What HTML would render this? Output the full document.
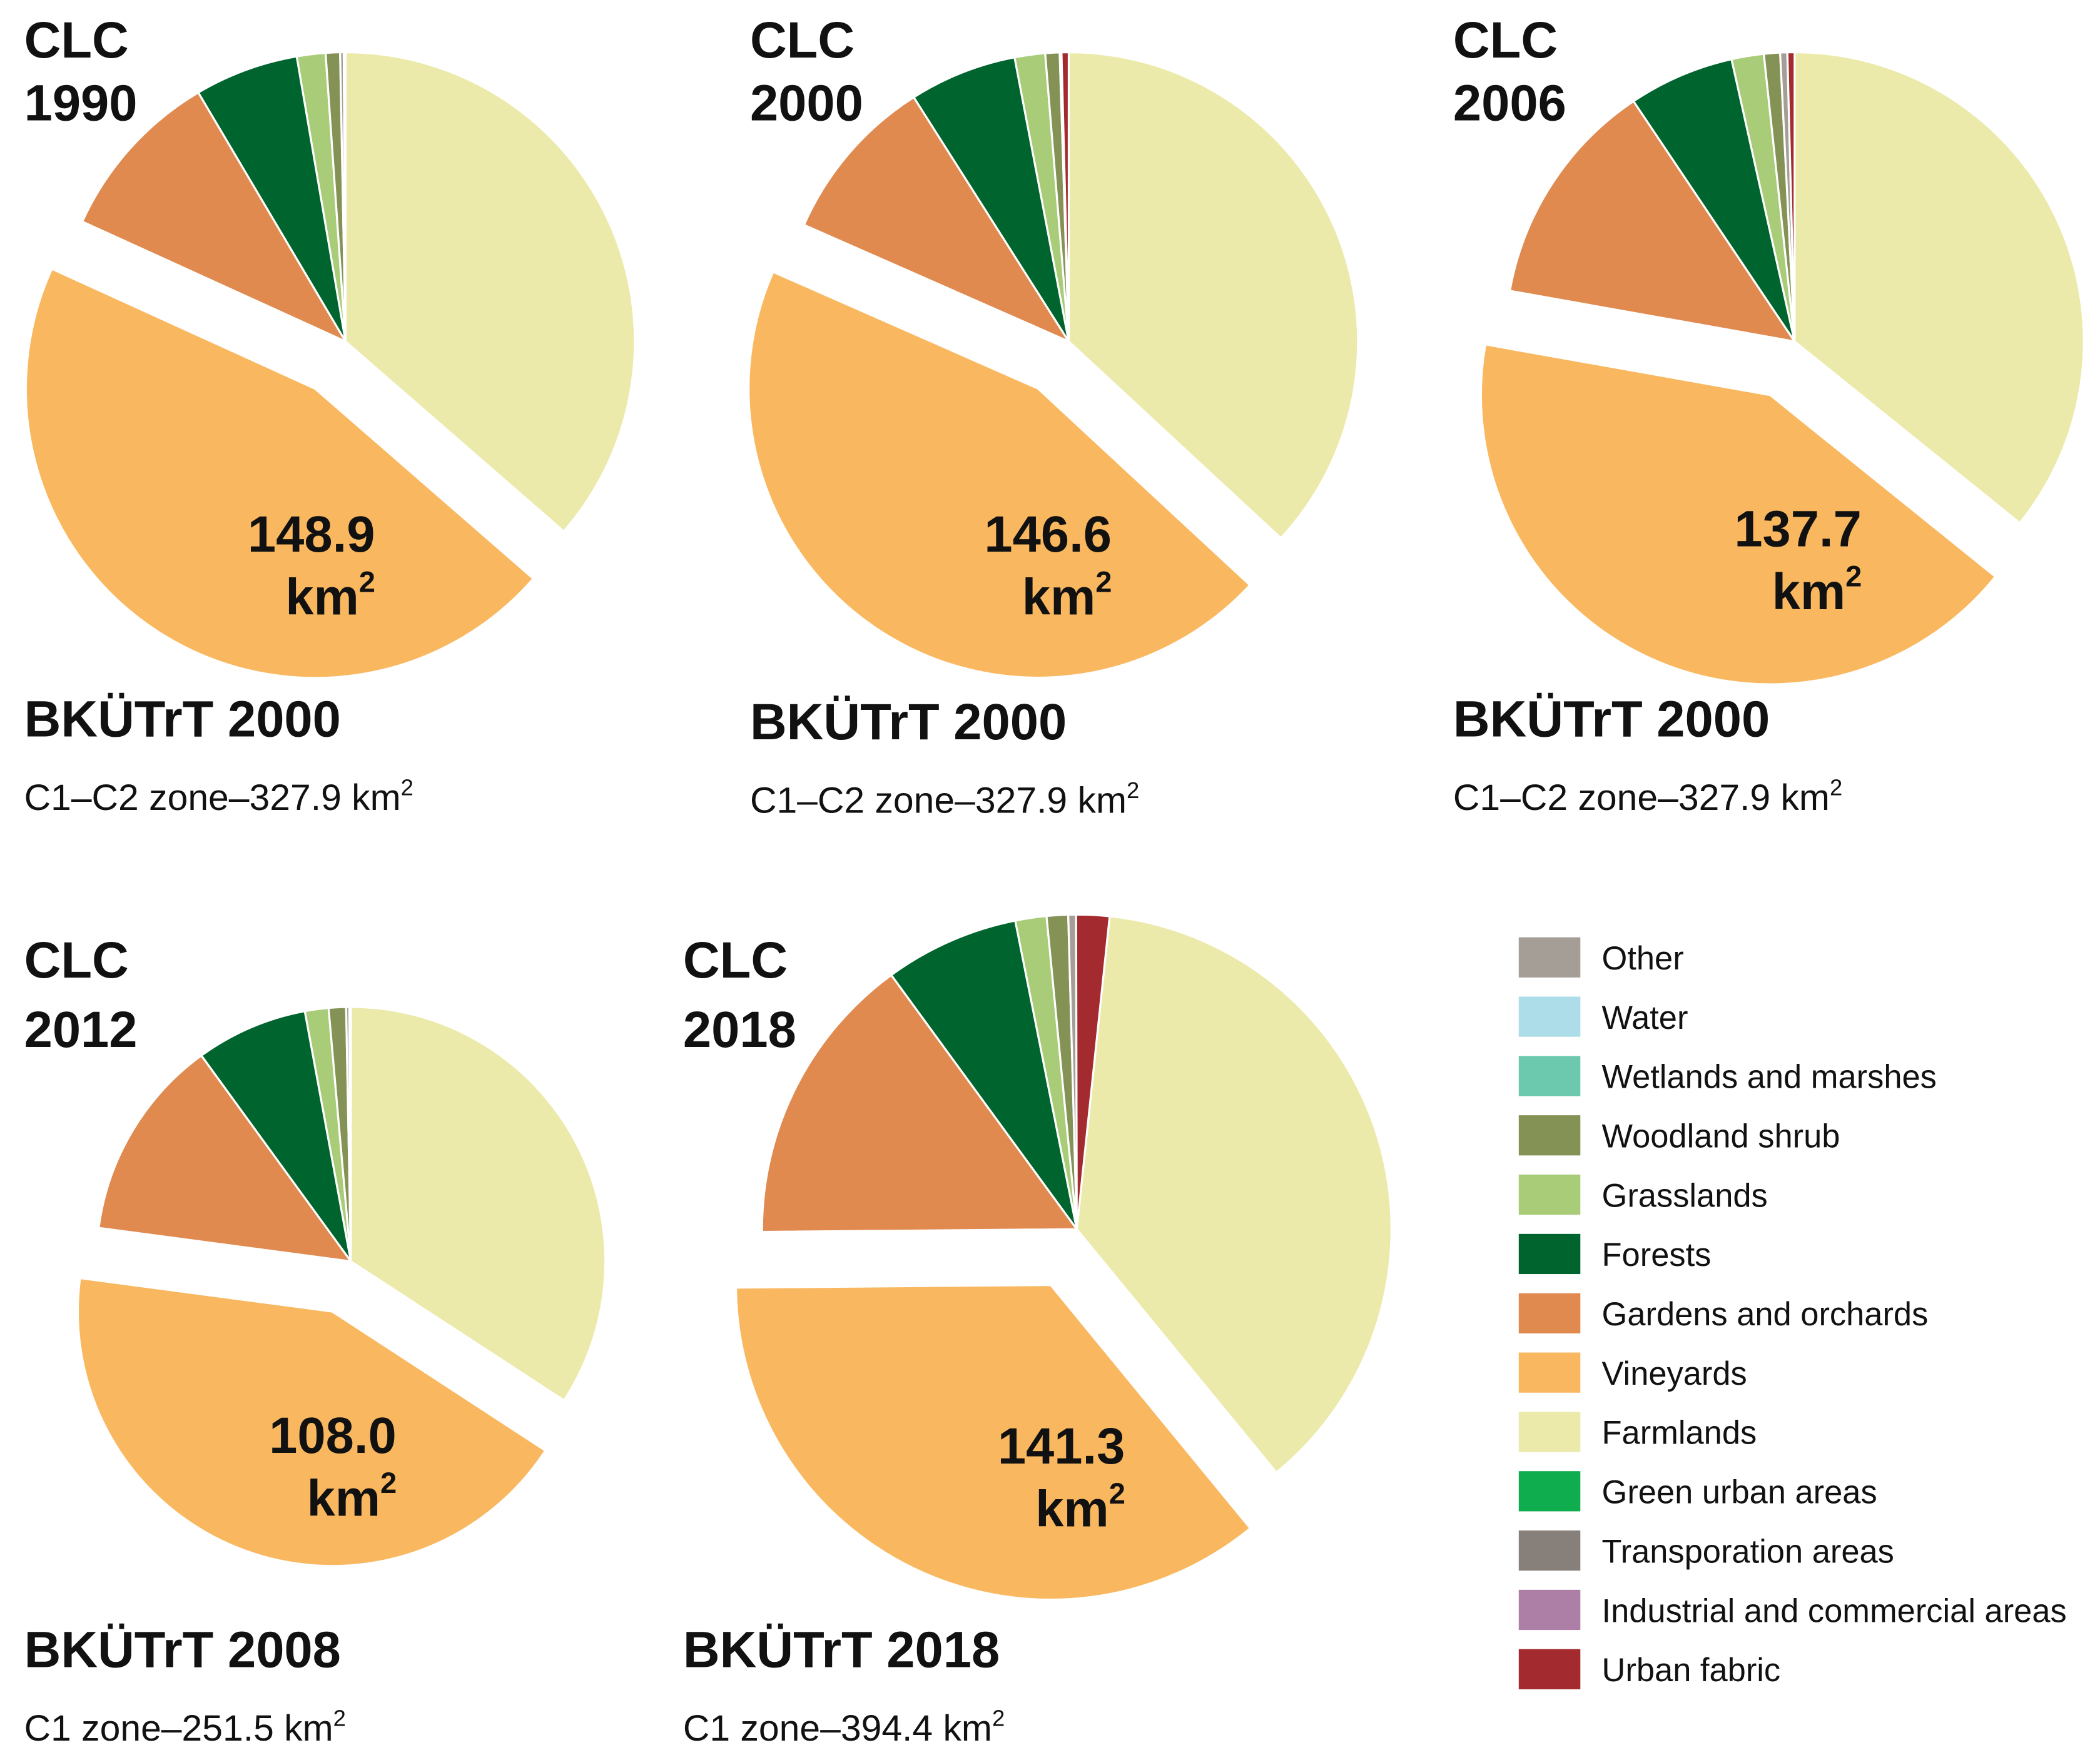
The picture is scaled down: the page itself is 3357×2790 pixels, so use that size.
<!DOCTYPE html>
<html><head><meta charset="utf-8"><style>
html,body{margin:0;padding:0;background:#fff;}
svg{display:block;}
text{font-family:"Liberation Sans Narrow","Liberation Sans",sans-serif;fill:#111;}
.lg{font-family:"Liberation Sans",sans-serif;font-size:24.5px;}
</style></head><body>
<svg id="chart" width="3357" height="2790" viewBox="0 0 1568 1303.2" xmlns="http://www.w3.org/2000/svg">
<g id="pies"></g>
<g id="legend"></g>
</svg>
<script>
const categories = ["Farmlands","Vineyards","Gardens and orchards","Forests","Grasslands","Woodland shrub","Other","Urban fabric"];
const pieTitles = ["1990","2000","2006","2012","2018"];
const farmlands = [36.4,36.9,35.8,34.2,37.4];
const vineyards = [45.4,44.7,42.0,42.9,35.8];
const gardens = [9.7,9.4,12.8,12.9,15.1];
const forests = [5.8,6.0,5.9,7.1,6.9];
const grasslands = [1.6,1.7,1.8,1.5,1.6];
const woodland = [0.8,0.8,0.9,1.1,1.1];
const other = [0.2,0.1,0.4,0.2,0.4];
const urban = [0.1,0.4,0.4,0.1,1.7];
const vineyardLabels = ["148.9","146.6","137.7","108.0","141.3"];
const zoneTitles = ["BKÜTrT 2000","BKÜTrT 2000","BKÜTrT 2000","BKÜTrT 2008","BKÜTrT 2018"];
const zoneLabels = ["C1–C2 zone–327.9 km","C1–C2 zone–327.9 km","C1–C2 zone–327.9 km","C1 zone–251.5 km","C1 zone–394.4 km"];
const legendLabels = ["Other","Water","Wetlands and marshes","Woodland shrub","Grasslands","Forests","Gardens and orchards","Vineyards","Farmlands","Green urban areas","Transporation areas","Industrial and commercial areas","Urban fabric"];
const legendColors = ["#a59e96","#acdde9","#6cc9ae","#849255","#a8cc78","#00642e","#e08a50","#f9b860","#ebeaaa","#10ad4f","#877f7a","#ad7ea6","#a32a2e"];

const catColors = ["#ebeaaa","#f9b860","#e08a50","#00642e","#a8cc78","#849255","#a59e96","#a32a2e"];
const series = [farmlands,vineyards,gardens,forests,grasslands,woodland,other,urban];
const layout = [
  {cx:258,cy:255,r:216,start:0,d:42,tx:18,ty:550,lx:280,ly:412},
  {cx:798,cy:255,r:216,start:0,d:42,tx:560,ty:552,lx:830,ly:412},
  {cx:1340,cy:255,r:216,start:0,d:44,tx:1085,ty:550,lx:1390,ly:408},
  {cx:262,cy:942,r:190,start:0,d:40,tx:18,ty:1245,lx:296,ly:1085},
  {cx:804,cy:918,r:235,start:6,d:46,tx:510,ty:1245,lx:840,ly:1093}
];
const NS="http://www.w3.org/2000/svg";
function mk(tag,attrs,parent){const e=document.createElementNS(NS,tag);for(const k in attrs)e.setAttribute(k,attrs[k]);parent.appendChild(e);return e;}
function pt(cx,cy,r,deg){const a=deg*Math.PI/180;return [cx+r*Math.sin(a),cy-r*Math.cos(a)];}
const piesG=document.getElementById('pies');
pieTitles.forEach((yr,p)=>{
  const L=layout[p];
  const g=mk('g',{},piesG);
  
  
  let total=0; series.forEach(s=>total+=s[p]);
  let ang=L.start;
  series.forEach((s,i)=>{
    const sweep=s[p]/total*360;
    const a0=ang,a1=ang+sweep; ang=a1;
    let cx=L.cx,cy=L.cy;
    if(i===1){const mid=(a0+a1)/2;const o=pt(0,0,L.d,mid);cx+=o[0];cy+=o[1];}
    const p0=pt(cx,cy,L.r,a0),p1=pt(cx,cy,L.r,a1);
    const large=sweep>180?1:0;
    const path=mk('path',{d:`M${cx},${cy}L${p0[0]},${p0[1]}A${L.r},${L.r} 0 ${large} 1 ${p1[0]},${p1[1]}Z`,fill:catColors[i],stroke:'#fff','stroke-width':1.5,'stroke-linejoin':'round'},g);
    
    
  });
  const t1=mk('text',{x:18+(p===1?542:p===2?1067:p===4?492:0),y:(p<3?43:730),'font-size':38,'font-weight':'bold'},g);
  t1.textContent='CLC';
  
  
  const t2=mk('text',{x:18+(p===1?542:p===2?1067:p===4?492:0),y:(p<3?90:782),'font-size':38,'font-weight':'bold'},g);
  t2.textContent=yr;
  
  
  const v=mk('text',{x:L.lx,y:L.ly,'font-size':38,'font-weight':'bold','text-anchor':'end'},g);
  v.textContent=vineyardLabels[p];
  
  
  const k=mk('text',{x:L.lx-12,y:L.ly+47,'font-size':38,'font-weight':'bold','text-anchor':'end'},g);
  k.textContent='km';
  
  
  const ks=mk('text',{x:L.lx-12,y:L.ly+30,'font-size':22,'font-weight':'bold'},g);
  ks.textContent='2';
  const z=mk('text',{x:L.tx,y:L.ty,'font-size':38,'font-weight':'bold'},g);
  z.textContent=zoneTitles[p];
  
  
  const zl=mk('text',{x:L.tx,y:L.ty+55,'font-size':27.5,style:'font-family:"Liberation Sans",sans-serif'},g);
  zl.textContent=zoneLabels[p];
  
  
  const zs=mk('tspan',{'font-size':17,dy:-11},zl); zs.textContent='2';
});
const lg=document.getElementById('legend');
legendLabels.forEach((lab,i)=>{
  const y=700+i*44.3;
  const r=mk('rect',{x:1134,y:y,width:46,height:30,fill:legendColors[i]},lg);
  
  
  const t=mk('text',{x:1196,y:y+24,class:'lg'},lg);
  t.textContent=lab;
  
  
});
</script>
</body></html>
